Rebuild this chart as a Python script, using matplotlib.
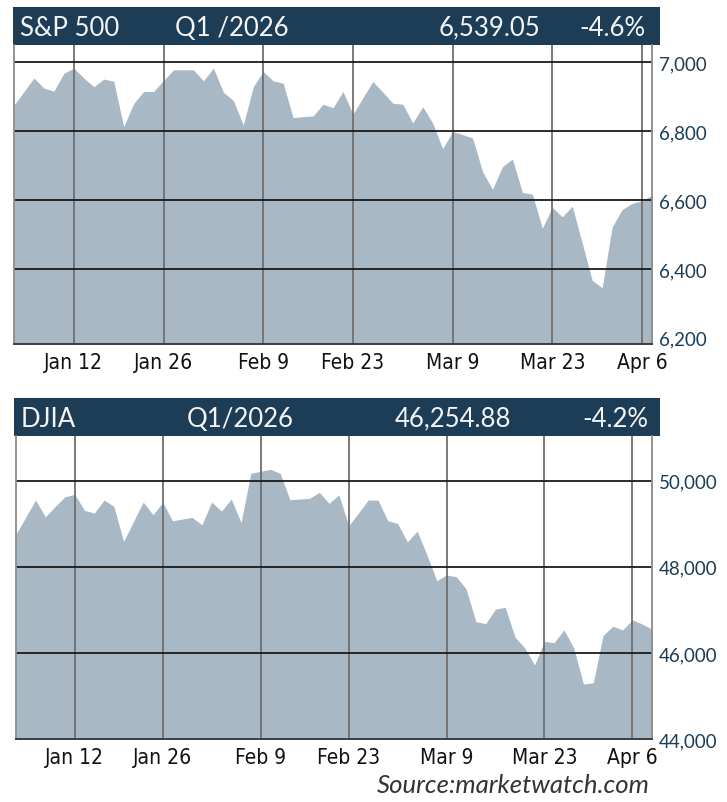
"""Q1 2026 index snapshot: S&P 500 and DJIA area charts, drawn by trading day."""
import pandas as pd
import matplotlib.pyplot as plt

# trading days (NYSE holidays removed)
holidays = ["2026-01-19", "2026-02-16", "2026-04-03"]
spx_days = pd.bdate_range("2026-01-02", "2026-04-07").drop(pd.to_datetime(holidays))
dji_days = pd.bdate_range("2026-01-02", "2026-04-08").drop(pd.to_datetime(holidays))

spx = [6876, 6915, 6954, 6925, 6916, 6968, 6983, 6954, 6929, 6951,
       6945, 6813, 6880, 6915, 6915, 6947, 6978, 6978, 6978, 6946,
       6983, 6913, 6889, 6818, 6929, 6973, 6946, 6939, 6839, 6842,
       6844, 6878, 6868, 6915, 6849, 6897, 6944, 6913, 6881, 6878,
       6824, 6871, 6823, 6749, 6799, 6790, 6780, 6683, 6631, 6697,
       6719, 6622, 6617, 6518, 6579, 6551, 6582, 6475, 6367, 6345,
       6521, 6572, 6590, 6598, 6614]

dji = [48760, 49155, 49551, 49163, 49400, 49628, 49684, 49312, 49249, 49551,
       49404, 48590, 49050, 49505, 49209, 49498, 49070, 49110, 49149, 48977,
       49505, 49295, 49574, 49032, 50172, 50220, 50265, 50172, 49558, 49575,
       49591, 49730, 49474, 49674, 48953, 49250, 49551, 49551, 49070, 49009,
       48581, 48830, 48275, 47679, 47810, 47771, 47489, 46726, 46680, 47016,
       47061, 46367, 46115, 45718, 46268, 46237, 46535, 46115, 45276, 45307,
       46405, 46619, 46535, 46764, 46672, 46550]

tick_dates = ["2026-01-12", "2026-01-26", "2026-02-09", "2026-02-23",
              "2026-03-09", "2026-03-23", "2026-04-06"]
tick_labels = ["Jan 12", "Jan 26", "Feb 9", "Feb 23", "Mar 9", "Mar 23", "Apr 6"]

spx_yticks = [6200, 6400, 6600, 6800, 7000]
dji_yticks = [44000, 46000, 48000, 50000]

spx_header = ["S&P 500", "Q1 /2026", "6,539.05", "-4.6%"]
dji_header = ["DJIA", "Q1/2026", "46,254.88", "-4.2%"]

NAVY = "#1c3d55"
FILL = "#a9b8c5"
BODY_FONT = ["Lato", "DejaVu Sans"]


def draw_header(fig, rect, texts, xs):
    hx = fig.add_axes(rect)
    hx.set_facecolor(NAVY)
    hx.set_xticks([])
    hx.set_yticks([])
    for s in hx.spines.values():
        s.set_visible(False)
    for t, x in zip(texts, xs):
        hx.text(x, 0.47, t, transform=hx.transAxes, color="#f2f4f6", fontsize=18.5,
                family=BODY_FONT, va="center", ha="left")


def draw_panel(fig, rect, days, values, ylim, yticks):
    ax = fig.add_axes(rect)
    x = list(range(len(values)))
    ax.fill_between(x, values, ylim[0], color=FILL, lw=0, zorder=1)
    ax.set_xlim(0, len(values) - 1)
    ax.set_ylim(*ylim)

    pos = [days.get_loc(pd.Timestamp(d)) for d in tick_dates]
    for p in pos:
        ax.axvline(p, color="#6f6f6f", lw=1.3, zorder=2)
    # lowest tick sits on the baseline, no rule there
    for y in yticks[1:]:
        ax.axhline(y, color="#1a1a1a", lw=1.3, zorder=3)

    ax.set_xticks(pos)
    ax.set_xticklabels(tick_labels, family="DejaVu Sans", fontstretch="condensed",
                       fontsize=15, color="#111111")
    ax.set_yticks(yticks)
    ax.set_yticklabels([f"{v:,}" for v in yticks], family=BODY_FONT, fontsize=13.5,
                       color=NAVY)
    ax.yaxis.tick_right()
    ax.tick_params(axis="y", length=0, pad=5)
    ax.tick_params(axis="x", length=0, pad=6)

    ax.spines["top"].set_visible(False)
    ax.spines["left"].set_color("#8a8a8a")
    ax.spines["right"].set_color("#8a8a8a")
    ax.spines["bottom"].set_color("#333333")
    for s in ax.spines.values():
        s.set_linewidth(1.3)
        s.set_zorder(4)
    return ax


fig = plt.figure(figsize=(7.27, 8.03), dpi=100)
fig.patch.set_facecolor("white")

draw_header(fig, [0.0183, 0.9427, 0.889, 0.0470], spx_header, [0.010, 0.250, 0.658, 0.876])
draw_panel(fig, [0.0193, 0.5704, 0.8775, 0.3723], spx_days, spx, (6182, 7050), spx_yticks)

draw_header(fig, [0.0193, 0.4558, 0.888, 0.0473], dji_header, [0.010, 0.268, 0.590, 0.880])
draw_panel(fig, [0.022, 0.0785, 0.8748, 0.3773], dji_days, dji, (44000, 51040), dji_yticks)

fig.text(0.894, 0.022, "Source:marketwatch.com", ha="right", va="center",
         family=BODY_FONT, fontsize=18.5, style="italic", color="#333333")

fig.savefig("out.png", dpi=100)
